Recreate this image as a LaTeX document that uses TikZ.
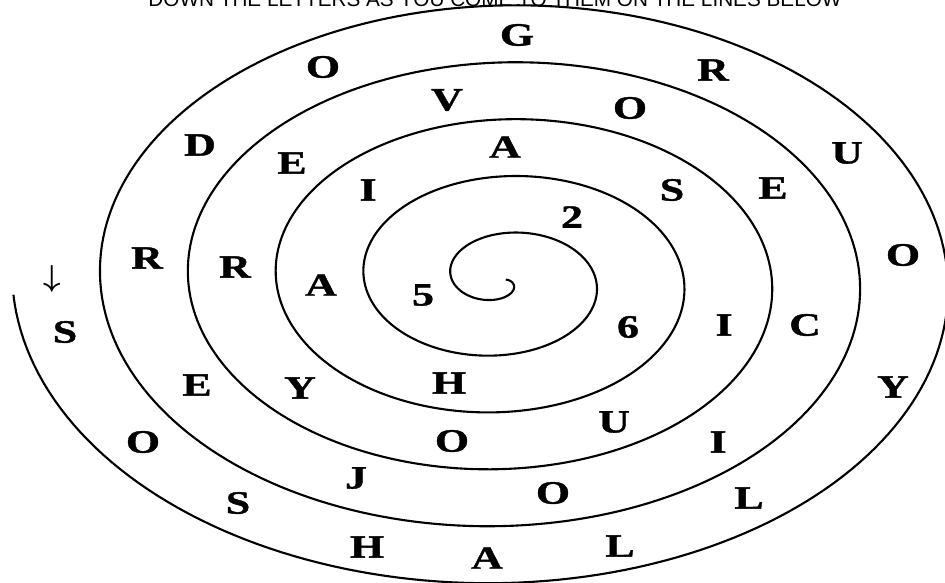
\documentclass[tikz,border=0pt]{standalone}
\usepackage{amsmath}
\usepackage{fontspec}
\setmainfont{Liberation Serif}
\newfontfamily\spiralfont[FakeStretch=1.35, FakeBold=1.2]{Liberation Serif}
\newfontfamily\hintfont{Liberation Sans}

\begin{document}
\begin{tikzpicture}[
    x=0.02cm, y=-0.02cm,
    letter/.style={font=\spiralfont\bfseries\fontsize{18.5}{20}\selectfont, inner sep=0pt},
    spiral/.style={line width=1.2pt, line join=round},
    hint/.style={font=\hintfont\fontsize{11.8}{13}\selectfont, anchor=base, inner sep=0pt}
]
\useasboundingbox (0,0) rectangle (945,582);

% Heading (cut off at the top)
\node[hint] (hint) at (495, 6) {DOWN THE LETTERS AS YOU COME TO THEM ON THE LINES BELOW};

% Spiral line
\draw[spiral] plot[domain=-3.3:31.376, samples=1200, variable=\t]
    ({502-14*(\t+3.57)*cos(\t r)}, {280-9.07*(\t+3.57)*sin(\t r)});

% Start arrow
\node[font=\fontsize{18.5}{20}\selectfont, inner sep=0pt] (start) at (52, 279) {$\boldsymbol{\downarrow}$};

% Outer band
\node[letter] (out1) at (65, 332) {S};
\node[letter] (out2) at (143, 442) {O};
\node[letter] (out3) at (238, 503) {S};
\node[letter] (out4) at (367, 547) {H};
\node[letter] (out5) at (487, 558) {A};
\node[letter] (out6) at (620, 546) {L};
\node[letter] (out7) at (749, 498) {L};
\node[letter] (out8) at (893, 387) {Y};
\node[letter] (out9) at (903, 255) {O};
\node[letter] (out10) at (847, 153) {U};
\node[letter] (out11) at (713, 70) {R};
\node[letter] (out12) at (517, 35) {G};
\node[letter] (out13) at (323, 67) {O};
\node[letter] (out14) at (200, 145) {D};
\node[letter] (out15) at (147, 258) {R};

% Middle band
\node[letter] (mid1) at (197, 385) {E};
\node[letter] (mid2) at (356, 478) {J};
\node[letter] (mid3) at (553, 493) {O};
\node[letter] (mid4) at (718, 442) {I};
\node[letter] (mid5) at (805, 325) {C};
\node[letter] (mid6) at (773, 188) {E};
\node[letter] (mid7) at (630, 108) {O};
\node[letter] (mid8) at (447, 100) {V};
\node[letter] (mid9) at (292, 163) {E};
\node[letter] (mid10) at (235, 267) {R};

% Inner band
\node[letter] (in1) at (300, 388) {Y};
\node[letter] (in2) at (452, 441) {O};
\node[letter] (in3) at (614, 422) {U};
\node[letter] (in4) at (724, 325) {I};
\node[letter] (in5) at (672, 190) {S};
\node[letter] (in6) at (505, 147) {A};
\node[letter] (in7) at (368, 190) {I};
\node[letter] (in8) at (321, 285) {A};
\node[letter] (in9) at (449, 383) {H};
\node[letter] (in10) at (628, 327) {6};
\node[letter] (in11) at (572, 217) {2};
\node[letter] (in12) at (423, 295) {5};

\end{tikzpicture}
\end{document}
